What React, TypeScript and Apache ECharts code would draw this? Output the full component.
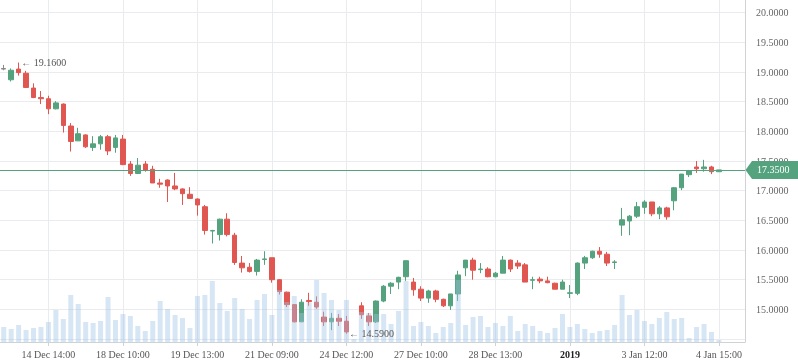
import { useEffect, useRef } from 'react';
import * as echarts from 'echarts';

// Slot layout of the time axis (one slot per bar, a few empty slots on the right)
const slotCount = 100;
const tickSlots = [6, 16, 26, 36, 46, 56, 66, 76, 86, 96];
const tickLabels = [
  '14 Dec 14:00', '18 Dec 10:00', '19 Dec 13:00', '21 Dec 09:00', '24 Dec 12:00',
  '27 Dec 10:00', '28 Dec 13:00', '2019', '3 Jan 12:00', '4 Jan 15:00',
];
const yearLabel = '2019';
const lowestPriceLabel = 15.0;

// [open, high, low, close]
const candles: (number[] | null)[] = [
  [19.06, 19.12, 19.03, 19.05],
  [18.87, 19.06, 18.84, 19.03],
  [19.05, 19.16, 18.94, 18.99],
  [18.98, 19.02, 18.73, 18.74],
  [18.73, 18.81, 18.56, 18.57],
  [18.57, 18.68, 18.46, 18.55],
  [18.55, 18.60, 18.29, 18.38],
  [18.38, 18.51, 18.37, 18.48],
  [18.46, 18.47, 17.98, 18.10],
  [18.09, 18.14, 17.66, 17.83],
  [17.84, 18.06, 17.84, 17.96],
  [17.94, 17.95, 17.72, 17.74],
  [17.73, 17.92, 17.67, 17.79],
  [17.79, 17.94, 17.69, 17.91],
  [17.91, 17.94, 17.60, 17.67],
  [17.73, 17.94, 17.64, 17.89],
  [17.87, 17.94, 17.43, 17.44],
  [17.45, 17.50, 17.25, 17.29],
  [17.29, 17.55, 17.28, 17.43],
  [17.45, 17.50, 17.32, 17.34],
  [17.36, 17.42, 17.13, 17.13],
  [17.13, 17.20, 17.05, 17.11],
  [17.18, 17.19, 16.81, 17.08],
  [17.08, 17.30, 17.01, 17.03],
  [17.03, 17.04, 16.76, 16.95],
  [16.94, 17.06, 16.86, 16.87],
  [16.86, 16.87, 16.58, 16.76],
  [16.73, 16.76, 16.26, 16.33],
  [16.32, 16.34, 16.11, 16.33],
  [16.26, 16.53, 16.16, 16.52],
  [16.52, 16.62, 16.23, 16.26],
  [16.25, 16.29, 15.75, 15.79],
  [15.78, 15.90, 15.62, 15.70],
  [15.71, 15.78, 15.62, 15.64],
  [15.64, 15.85, 15.57, 15.83],
  [15.84, 15.98, 15.75, 15.85],
  [15.87, 15.87, 15.45, 15.50],
  [15.50, 15.51, 15.25, 15.30],
  [15.29, 15.30, 15.04, 15.08],
  [15.08, 15.09, 14.78, 14.79],
  [14.79, 15.17, 14.79, 15.12],
  [15.15, 15.28, 15.06, 15.13],
  [15.12, 15.22, 15.01, 15.04],
  [14.87, 14.96, 14.72, 14.79],
  [14.79, 14.94, 14.65, 14.85],
  [14.85, 14.92, 14.72, 14.80],
  [14.80, 14.89, 14.59, 14.62],
  null,
  [15.06, 15.12, 14.84, 14.91],
  [14.89, 14.94, 14.72, 14.79],
  [14.79, 15.15, 14.77, 15.14],
  [15.14, 15.41, 15.12, 15.39],
  [15.39, 15.46, 15.26, 15.44],
  [15.46, 15.55, 15.34, 15.54],
  [15.55, 15.82, 15.48, 15.82],
  [15.46, 15.53, 15.23, 15.33],
  [15.34, 15.39, 15.14, 15.19],
  [15.19, 15.33, 15.11, 15.31],
  [15.31, 15.33, 15.12, 15.17],
  [15.17, 15.18, 15.04, 15.06],
  [15.06, 15.26, 14.99, 15.26],
  [15.26, 15.65, 15.14, 15.58],
  [15.70, 15.83, 15.56, 15.83],
  [15.83, 15.87, 15.50, 15.66],
  [15.67, 15.78, 15.61, 15.68],
  [15.68, 15.71, 15.54, 15.55],
  [15.55, 15.63, 15.54, 15.61],
  [15.61, 15.90, 15.61, 15.83],
  [15.83, 15.84, 15.63, 15.68],
  [15.78, 15.83, 15.68, 15.73],
  [15.75, 15.78, 15.46, 15.46],
  [15.49, 15.55, 15.34, 15.50],
  [15.51, 15.55, 15.44, 15.48],
  [15.48, 15.55, 15.44, 15.45],
  [15.44, 15.45, 15.34, 15.34],
  [15.34, 15.50, 15.34, 15.46],
  [15.27, 15.41, 15.19, 15.28],
  [15.27, 15.79, 15.24, 15.78],
  [15.78, 15.90, 15.68, 15.87],
  [15.87, 15.99, 15.85, 15.98],
  [15.98, 16.05, 15.87, 15.93],
  [15.93, 15.97, 15.73, 15.78],
  [15.79, 15.83, 15.68, 15.80],
  [16.42, 16.71, 16.24, 16.51],
  [16.49, 16.59, 16.25, 16.57],
  [16.57, 16.81, 16.54, 16.73],
  [16.72, 16.84, 16.61, 16.81],
  [16.81, 16.81, 16.57, 16.61],
  [16.61, 16.74, 16.52, 16.71],
  [16.71, 16.73, 16.51, 16.56],
  [16.83, 17.06, 16.67, 17.05],
  [17.05, 17.28, 17.01, 17.28],
  [17.27, 17.35, 17.23, 17.33],
  [17.40, 17.50, 17.30, 17.37],
  [17.37, 17.52, 17.32, 17.40],
  [17.40, 17.42, 17.28, 17.32],
  [17.32, 17.35, 17.32, 17.35],
];

// volume (thousands)
const volumes = [
  15, 13, 17, 12, 14, 15, 20, 32, 23, 47, 38, 20, 19, 21, 45, 22, 28, 26, 16, 11,
  21, 41, 33, 27, 24, 14, 46, 47, 61, 39, 31, 44, 33, 23, 42, 48, 27, 52, 40, 46,
  29, 39, 62, 49, 42, 32, 42, 3, 30, 29, 28, 28, 18, 31, 61, 16, 20, 16, 9, 15,
  19, 62, 17, 25, 26, 15, 19, 16, 26, 11, 18, 16, 11, 9, 14, 28, 15, 18, 13, 9,
  11, 12, 17, 47, 27, 32, 21, 18, 24, 30, 23, 24, 4, 15, 18, 10, 2,
];

const GREEN = '#54a37e';
const RED = '#e05752';
const NEUTRAL = '#8a8a8a';
const GRID_LINE = '#e9ebee';
const AXIS_LINE = '#cfd3d6';
const FONT = "'Liberation Serif', 'Times New Roman', serif";

export default function App() {
  const ref = useRef<HTMLDivElement>(null);

  useEffect(() => {
    if (!ref.current) return;
    const chart = echarts.init(ref.current, null, { renderer: 'svg' });

    const categories = Array.from({ length: slotCount }, (_, i) => String(i));
    const isTick = (i: number) => tickSlots.indexOf(i) >= 0;

    const candleData = candles.map((c, i) => {
      if (!c) return ['-', '-', '-', '-'];
      const [o, h, l, cl] = c;
      const item: any = { value: [o, cl, l, h] };
      if (i === 0) {
        item.itemStyle = { color: NEUTRAL, color0: NEUTRAL, borderColor: NEUTRAL, borderColor0: NEUTRAL };
      }
      return item;
    });

    let maxIdx = 0, maxHigh = -Infinity, minIdx = 0, minLow = Infinity;
    candles.forEach((c, i) => {
      if (!c) return;
      if (c[1] > maxHigh) { maxHigh = c[1]; maxIdx = i; }
      if (c[2] < minLow) { minLow = c[2]; minIdx = i; }
    });
    let lastClose = 0;
    for (let i = candles.length - 1; i >= 0; i--) {
      const c = candles[i];
      if (c) { lastClose = c[3]; break; }
    }

    const option: any = {
      animation: false,
      grid: {
        left: 0, right: 53, top: -1, bottom: 21,
        containLabel: false, outerBoundsMode: 'none',
      },
      xAxis: [{
        type: 'category',
        data: categories,
        boundaryGap: true,
        axisLine: { show: true, lineStyle: { color: AXIS_LINE } },
        axisTick: {
          show: true, alignWithLabel: true, length: 4,
          interval: (i: number) => isTick(i),
          lineStyle: { color: AXIS_LINE },
        },
        axisLabel: {
          show: true,
          interval: (i: number) => isTick(i),
          margin: 7,
          color: '#555',
          fontSize: 10,
          fontFamily: FONT,
          formatter: (_v: string, i: number) => {
            const k = tickSlots.indexOf(i);
            if (k < 0) return '';
            const t = tickLabels[k];
            return t === yearLabel ? `{b|${t}}` : t;
          },
          rich: { b: { fontWeight: 'bold', color: '#222', fontSize: 10, fontFamily: FONT } },
        },
        splitLine: {
          show: true, alignWithLabel: true,
          interval: (i: number) => isTick(i),
          lineStyle: { color: GRID_LINE, width: 1 },
        },
      }],
      yAxis: [
        {
          type: 'value',
          position: 'right',
          min: 14.45,
          max: 20.231,
          splitNumber: 10,
          axisLine: { show: true, lineStyle: { color: AXIS_LINE } },
          axisTick: { show: false },
          axisLabel: {
            show: true,
            margin: 11,
            color: '#666',
            fontSize: 10,
            fontFamily: FONT,
            showMinLabel: false,
            showMaxLabel: false,
            formatter: (v: number) => (v < lowestPriceLabel - 0.01 ? '' : v.toFixed(4)),
          },
          splitLine: { show: true, lineStyle: { color: GRID_LINE, width: 1 } },
        },
        {
          type: 'value',
          min: 0,
          max: 343,
          show: false,
          splitLine: { show: false },
        },
      ],
      series: [
        {
          type: 'candlestick',
          xAxisIndex: 0,
          yAxisIndex: 0,
          data: candleData,
          barWidth: 5,
          z: 2,
          itemStyle: {
            color: GREEN, color0: RED, borderColor: GREEN, borderColor0: RED, borderWidth: 1,
          },
        },
        {
          type: 'bar',
          xAxisIndex: 0,
          yAxisIndex: 1,
          data: volumes,
          barWidth: 5,
          z: 3,
          silent: true,
          itemStyle: { color: 'rgba(160,195,228,0.42)' },
        },
        {
          type: 'line',
          xAxisIndex: 0,
          yAxisIndex: 0,
          data: [],
          z: 5,
          silent: true,
          markPoint: {
            silent: true,
            symbol: 'circle',
            symbolSize: 1,
            itemStyle: { color: 'rgba(0,0,0,0)' },
            label: {
              show: true,
              position: 'right',
              distance: 2,
              color: '#555',
              fontSize: 10,
              fontFamily: FONT,
              formatter: (p: any) => '← ' + Number(p.value).toFixed(4),
            },
            data: [
              { coord: [String(maxIdx), maxHigh], value: maxHigh },
              { coord: [String(minIdx), minLow], value: minLow },
            ],
          },
          markLine: {
            silent: true,
            symbol: ['none', 'none'],
            lineStyle: { color: GREEN, width: 1, type: 'solid' },
            label: {
              show: true,
              position: 'end',
              distance: 7,
              formatter: lastClose.toFixed(4),
              color: '#fff',
              backgroundColor: GREEN,
              padding: [3, 10, 3, 5],
              fontSize: 10,
              lineHeight: 12,
              fontFamily: FONT,
            },
            emphasis: { disabled: true },
            data: [{ yAxis: lastClose }],
          },
        },
      ],
    };

    chart.setOption(option);

    const y = chart.convertToPixel({ yAxisIndex: 0 }, lastClose) as number;
    const xr = chart.getWidth() - 53;
    chart.setOption({
      graphic: [{
        type: 'polygon',
        z: 100,
        silent: true,
        shape: { points: [[xr + 0.5, y], [xr + 7, y - 9], [xr + 7, y + 9]] },
        style: { fill: GREEN },
      }],
    });

    return () => chart.dispose();
  }, []);

  return (
    <div
      ref={ref}
      style={{ position: 'fixed', left: 0, top: 0, width: 798, height: 363 }}
    />
  );
}
